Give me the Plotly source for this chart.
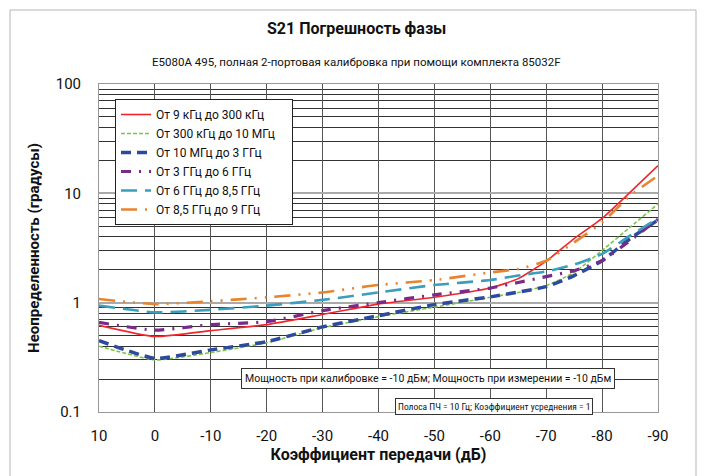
import plotly.graph_objects as go

# ---- data ----
gain_db = [10, 0, -10, -20, -30, -40, -50, -60, -65, -70, -75, -80, -85, -90]

s_9k_300k =   [0.62, 0.49, 0.555, 0.63, 0.78, 0.97, 1.12, 1.36, 1.66, 2.40, 3.85, 5.9, 10.2, 17.9]
s_300k_10M =  [0.40, 0.30, 0.35, 0.43, 0.59, 0.745, 0.91, 1.12, 1.24, 1.43, 1.89, 3.0, 4.9, 8.0]
s_10M_3G =    [0.45, 0.31, 0.37, 0.44, 0.60, 0.76, 0.96, 1.13, 1.25, 1.40, 1.77, 2.42, 3.85, 5.7]
s_3G_6G =     [0.66, 0.56, 0.63, 0.67, 0.845, 1.0, 1.18, 1.36, 1.53, 1.73, 1.96, 2.42, 3.7, 5.8]
s_6G_85G =    [0.94, 0.815, 0.86, 0.94, 1.06, 1.24, 1.45, 1.61, 1.77, 1.93, 2.23, 2.79, 4.1, 5.9]
s_85G_9G =    [1.08, 0.97, 1.03, 1.12, 1.24, 1.45, 1.61, 1.89, 2.03, 2.42, 3.56, 5.4, 9.5, 14.5]

series_names = [
    "От 9 кГц до 300 кГц",
    "От 300 кГц до 10 МГц",
    "От 10 МГц до 3 ГГц",
    "От 3 ГГц до 6 ГГц",
    "От 6 ГГц до 8,5 ГГц",
    "От 8,5 ГГц до 9 ГГц",
]
series_values = [s_9k_300k, s_300k_10M, s_10M_3G, s_3G_6G, s_6G_85G, s_85G_9G]

x_tick_vals = [10, 0, -10, -20, -30, -40, -50, -60, -70, -80, -90]
x_tick_text = ["10", "0", "-10", "-20", "-30", "-40", "-50", "-60", "-70", "-80", "-90"]
y_tick_vals = [0.1, 1, 10, 100]
y_tick_text = ["0.1", "1", "10", "100"]

title_text = "S21 Погрешность фазы"
subtitle_text = "E5080A 495, полная 2-портовая калибровка при помощи комплекта 85032F"
note1_text = "Мощность при калибровке = -10 дБм; Мощность при измерении = -10 дБм"
note2_text = "Полоса ПЧ = 10 Гц; Коэффициент усреднения = 1"
x_title = "Коэффициент передачи (дБ)"
y_title = "Неопределенность (градусы)"

# ---- styles ----
styles = [
    dict(color="#f0262a", width=1.6, dash="solid"),
    dict(color="#7cc444", width=1.6, dash="4px,2px"),
    dict(color="#2e4a9e", width=3.5, dash="10px,6px"),
    dict(color="#7a2a8a", width=3.2, dash="10px,8px,2px,8px"),
    dict(color="#3a9ebc", width=2.6, dash="16px,8px"),
    dict(color="#e8842e", width=2.6, dash="16px,8px,2px,8px,2px,8px"),
]

FONT = "Roboto, Liberation Sans, Arial"
NARROW = "Liberation Sans Narrow, Roboto Condensed, Roboto, Arial"

fig = go.Figure()
for name, vals, st in zip(series_names, series_values, styles):
    fig.add_trace(go.Scatter(x=gain_db, y=vals, mode="lines",
                             name=name + "\u00a0\u00a0\u00a0\u00a0",
                             line=dict(color=st["color"], width=st["width"], dash=st["dash"],
                                       shape="spline", smoothing=0.5)))

OFF = 8  # page body margin
W, H = 705 - OFF, 476 - OFF
L, R, T, B = 99 - OFF, 658 - OFF, 84 - OFF, 412 - OFF

def px_x(px):
    return (px - OFF - L) / (R - L)

def px_y(py):
    return (B - (py - OFF)) / (B - T)

fig.update_layout(
    width=W, height=H,
    margin=dict(l=L, r=W - R, t=T, b=H - B, autoexpand=False),
    paper_bgcolor="white", plot_bgcolor="white",
    font=dict(family=FONT, color="#111"),
    showlegend=True,
    legend=dict(x=px_x(115), y=px_y(99), xanchor="left", yanchor="top",
                bgcolor="white", bordercolor="#222", borderwidth=1,
                font=dict(size=12, family=FONT), tracegroupgap=0,
                itemwidth=30),
    xaxis=dict(range=[10, -90], tickvals=x_tick_vals, ticktext=x_tick_text, ticks="", automargin=False,
               showgrid=True, gridcolor="#555", gridwidth=1,
               showline=True, linecolor="#999", linewidth=1, mirror=True,
               zeroline=False, tickfont=dict(size=15, family=FONT, color="#111"),
               ticklabelstandoff=10,
               title=dict(text="<b>" + x_title + "</b>", font=dict(size=16, family=FONT), standoff=4)),
    yaxis=dict(type="log", range=[-1, 2], tickvals=y_tick_vals, ticktext=y_tick_text,
               ticks="", automargin=False, showgrid=True, gridcolor="#aaa", gridwidth=2,
               minor=dict(dtick="D1", showgrid=True, gridcolor="#333", gridwidth=1, ticks=""),
               showline=True, linecolor="#999", linewidth=1, mirror=True,
               zeroline=False, tickfont=dict(size=15, family=FONT, color="#111"),
               ticklabelstandoff=14,
               title=dict(text="<b>" + y_title + "</b>", font=dict(size=15, family=FONT), standoff=12)),
)

fig.add_shape(type="rect", xref="paper", yref="paper",
              x0=px_x(10), x1=px_x(696), y0=px_y(490), y1=px_y(10),
              line=dict(color="#b5b5b5", width=1), layer="below")

fig.add_annotation(text="<b>" + title_text + "</b>", xref="paper", yref="paper",
                   x=px_x(356), y=px_y(28), showarrow=False, xanchor="center", yanchor="middle",
                   font=dict(size=16, family=FONT, color="#111"))
fig.add_annotation(text=subtitle_text, xref="paper", yref="paper",
                   x=px_x(356), y=px_y(62), showarrow=False, xanchor="center", yanchor="middle",
                   font=dict(size=11.5, family=FONT, color="#111"))
fig.add_annotation(text=note1_text, xref="paper", yref="paper",
                   x=px_x(428), y=px_y(378), showarrow=False, xanchor="center", yanchor="middle",
                   font=dict(size=10.5, family=FONT, color="#111"),
                   bgcolor="white", bordercolor="#333", borderwidth=1, borderpad=3)
fig.add_annotation(text=note2_text, xref="paper", yref="paper",
                   x=px_x(494), y=px_y(406), showarrow=False, xanchor="center", yanchor="middle",
                   font=dict(size=9.5, family=NARROW, color="#111"),
                   bgcolor="white", bordercolor="#333", borderwidth=1, borderpad=2)

fig.write_html("out.html")
